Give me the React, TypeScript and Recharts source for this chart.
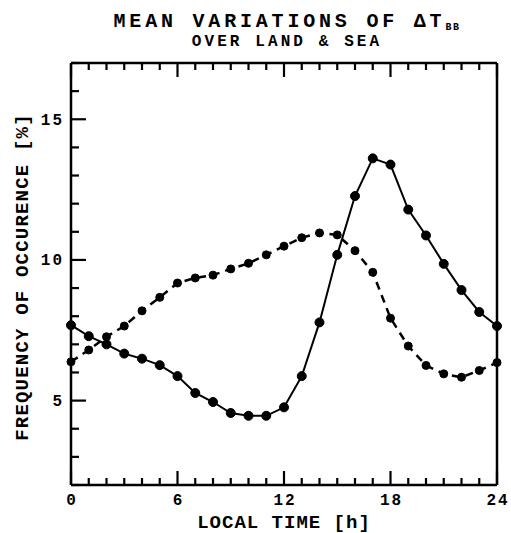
import { Line, LineChart, XAxis, YAxis } from "recharts"

const hours = [0, 1, 2, 3, 4, 5, 6, 7, 8, 9, 10, 11, 12, 13, 14, 15, 16, 17, 18, 19, 20, 21, 22, 23, 24]

// solid line with dots
const solidValues = [
  7.68, 7.29, 7.0, 6.67, 6.49, 6.26, 5.87, 5.27, 4.95, 4.56, 4.46, 4.46, 4.76,
  5.87, 7.78, 10.18, 12.27, 13.61, 13.39, 11.79, 10.87, 9.86, 8.93, 8.15, 7.65,
]

// dashed line with dots
const dashedValues = [
  6.38, 6.8, 7.27, 7.65, 8.19, 8.67, 9.18, 9.36, 9.46, 9.68, 9.88, 10.18, 10.49,
  10.79, 10.96, 10.89, 10.33, 9.56, 7.93, 6.94, 6.25, 5.95, 5.83, 6.07, 6.35,
]

const xLabels = [0, 6, 12, 18, 24]
const yTicks = [2, 3, 4, 5, 6, 7, 8, 9, 10, 11, 12, 13, 14, 15, 16, 17]
const yLabels = [5, 10, 15]

const data = hours.map((h, i) => ({
  hour: h,
  solid: solidValues[i],
  dashed: dashedValues[i],
}))

const font = "'Liberation Mono', 'DejaVu Sans Mono', monospace"

// ticks point inward on all four sides, longer at the labelled values
function BottomTick(props: any) {
  const { x, y, payload } = props
  const major = xLabels.includes(payload.value)
  return (
    <g>
      <line x1={x} y1={y} x2={x} y2={y - (major ? 14 : 7)} stroke="#000" strokeWidth={2.2} />
      {major && (
        <text x={x + 1} y={y + 20} textAnchor="middle" fontFamily={font} fontWeight="bold" fontSize={16} letterSpacing={2} fill="#000">
          {payload.value}
        </text>
      )}
    </g>
  )
}

function TopTick(props: any) {
  const { x, y, payload } = props
  const major = xLabels.includes(payload.value)
  return <line x1={x} y1={y} x2={x} y2={y + (major ? 14 : 7)} stroke="#000" strokeWidth={2.2} />
}

function LeftTick(props: any) {
  const { x, y, payload } = props
  const major = yLabels.includes(payload.value)
  return (
    <g>
      <line x1={x} y1={y} x2={x + (major ? 15 : 8)} y2={y} stroke="#000" strokeWidth={2.2} />
      {major && (
        <text x={x - 7} y={y + 5.5} textAnchor="end" fontFamily={font} fontWeight="bold" fontSize={16} letterSpacing={2} fill="#000">
          {payload.value}
        </text>
      )}
    </g>
  )
}

function RightTick(props: any) {
  const { x, y, payload } = props
  const major = yLabels.includes(payload.value)
  return <line x1={x} y1={y} x2={x - (major ? 15 : 8)} y2={y} stroke="#000" strokeWidth={2.2} />
}

const axisLine = { stroke: "#000", strokeWidth: 2.5 }

export default function App() {
  return (
    <div style={{ position: "absolute", left: 0, top: 0 }}>
      <LineChart width={511} height={533} data={data} margin={{ top: 62, right: 13, bottom: 47, left: 70 }}>
        <XAxis dataKey="hour" type="number" domain={[0, 24]} ticks={hours} interval={0} height={1} tickSize={0} tickMargin={0} tickLine={false} axisLine={axisLine} tick={BottomTick} />
        <XAxis xAxisId="top" orientation="top" dataKey="hour" type="number" domain={[0, 24]} ticks={hours} interval={0} height={1} tickSize={0} tickMargin={0} tickLine={false} axisLine={axisLine} tick={TopTick} />
        <YAxis type="number" domain={[2, 17]} ticks={yTicks} interval={0} width={1} tickSize={0} tickMargin={0} tickLine={false} axisLine={axisLine} tick={LeftTick} />
        <YAxis yAxisId="right" orientation="right" type="number" domain={[2, 17]} ticks={yTicks} interval={0} width={1} tickSize={0} tickMargin={0} tickLine={false} axisLine={axisLine} tick={RightTick} />
        <Line
          dataKey="dashed"
          stroke="#000"
          strokeWidth={2.5}
          strokeDasharray="8 6"
          type="linear"
          dot={{ r: 4, fill: "#000", stroke: "#000", strokeWidth: 1, strokeDasharray: "" }}
          isAnimationActive={false}
        />
        <Line
          dataKey="solid"
          stroke="#000"
          strokeWidth={2}
          type="linear"
          dot={{ r: 4.5, fill: "#000", stroke: "#000", strokeWidth: 1 }}
          isAnimationActive={false}
        />
      </LineChart>
      <svg width={511} height={533} style={{ position: "absolute", left: 0, top: 0, pointerEvents: "none" }}>
        <text x={287} y={27} textAnchor="middle" fontFamily={font} fontWeight="bold" fontSize={20} letterSpacing={3.8} fill="#000">
          MEAN VARIATIONS OF ΔT
          <tspan fontSize={10} letterSpacing={1.5} dy={3}>BB</tspan>
        </text>
        <text x={287} y={46} textAnchor="middle" fontFamily={font} fontWeight="bold" fontSize={16} letterSpacing={3.1} fill="#000">
          OVER LAND &amp; SEA
        </text>
        <text x={284} y={528} textAnchor="middle" fontFamily={font} fontWeight="bold" fontSize={19} letterSpacing={1} fill="#000">
          LOCAL TIME [h]
        </text>
        <text x={28} y={277} transform="rotate(-90 28 277)" textAnchor="middle" fontFamily={font} fontWeight="bold" fontSize={19} letterSpacing={1.2} fill="#000">
          FREQUENCY OF OCCURENCE [%]
        </text>
      </svg>
    </div>
  )
}
